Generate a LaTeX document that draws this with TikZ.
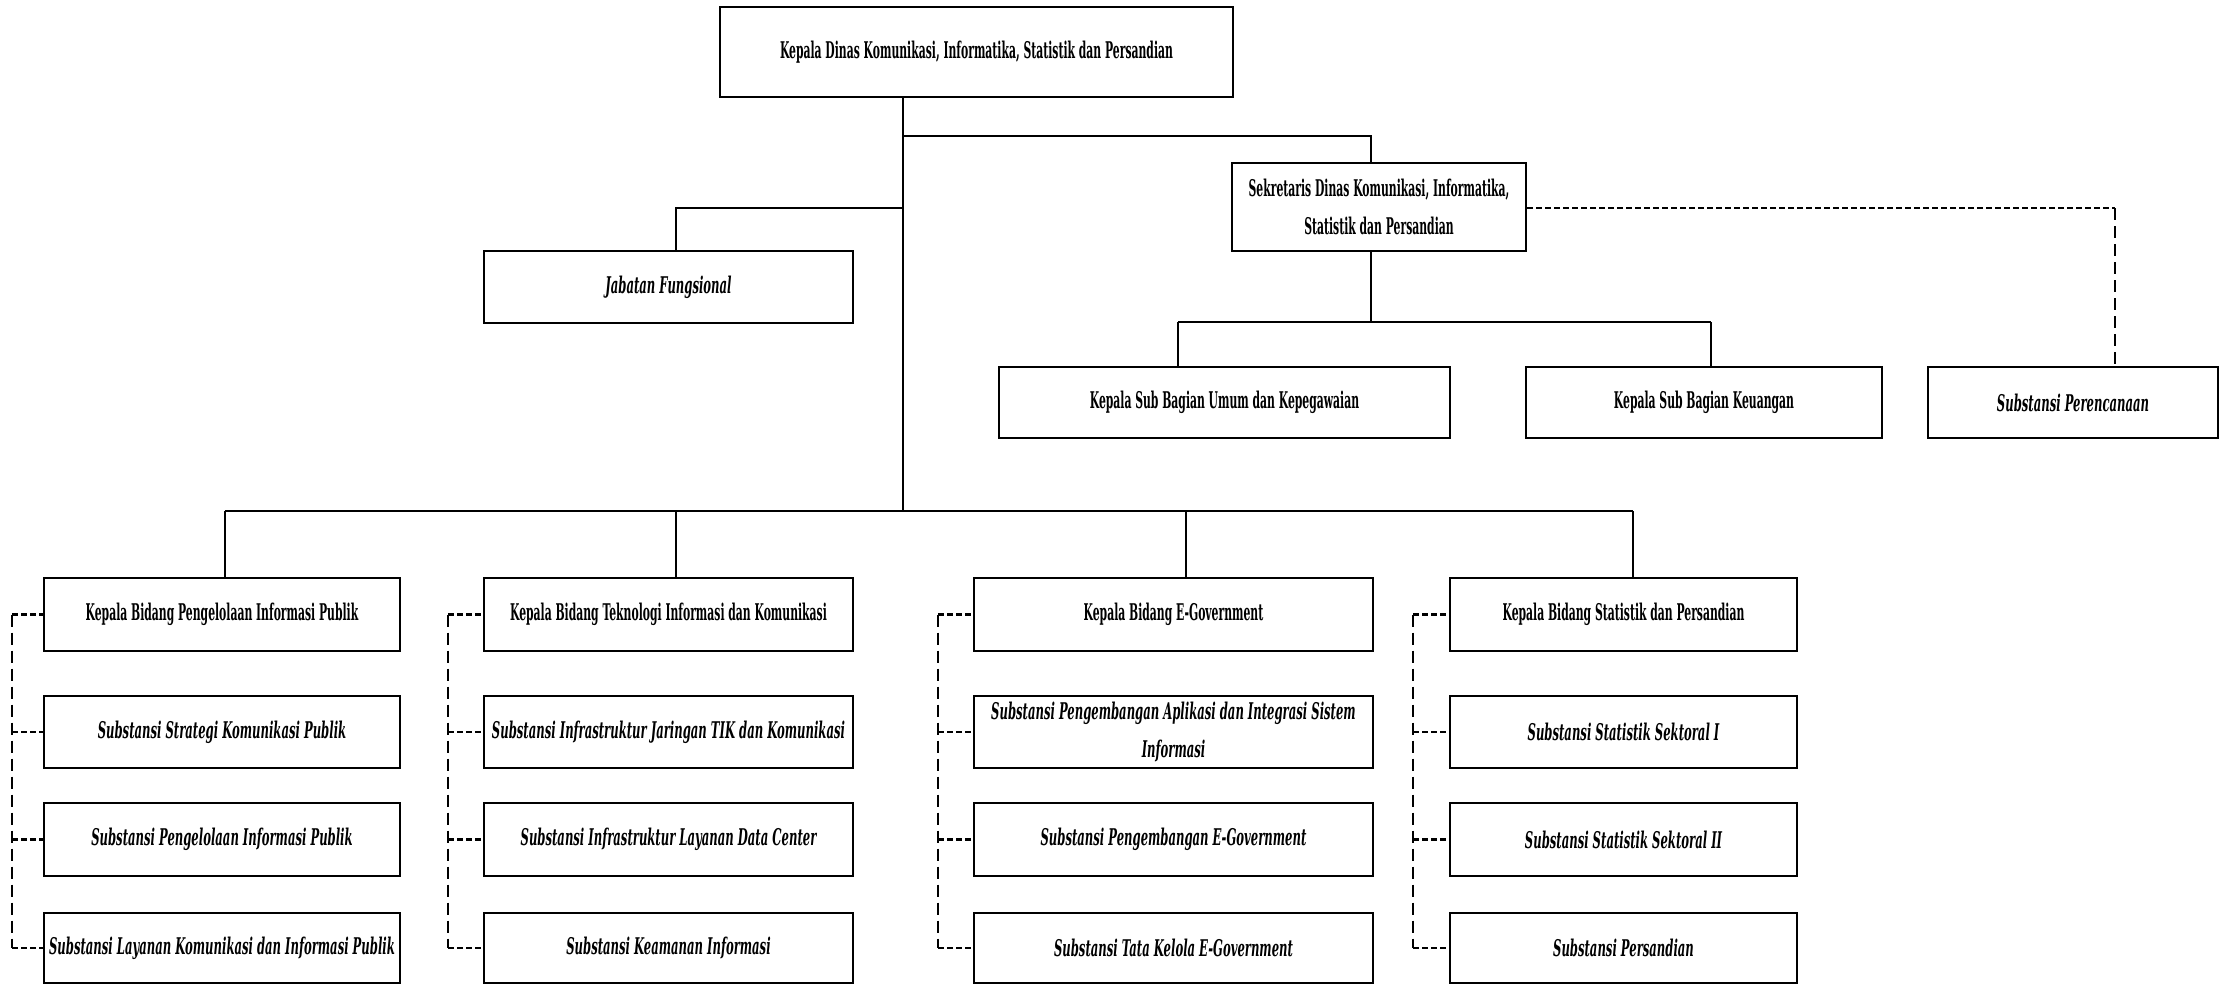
\documentclass[tikz,border=0pt]{standalone}
\usepackage{fontspec}
\setmainfont[FakeStretch=0.47]{DejaVu Serif}
\newfontfamily\itfam[FakeStretch=0.505]{DejaVu Serif}
\begin{document}
\begin{tikzpicture}[x=0.5pt,y=-0.5pt,
  box/.style={draw, line width=1.1pt, inner sep=0pt, align=center, fill=white},
  kb/.style={box, font=\fontsize{11.5pt}{19pt}\selectfont\bfseries},
  sb/.style={box, font=\itfam\fontsize{11.5pt}{19pt}\selectfont\bfseries\itshape},
  conn/.style={line width=0.9pt},
  dshort/.style={line width=1.1pt, dash pattern=on 3pt off 1.5pt},
  dlong/.style={line width=0.8pt, dash pattern=on 6pt off 3pt},
  r1/.style={minimum height=36.5pt},
  r2/.style={minimum height=36pt},
  r3/.style={minimum height=36.5pt},
  r4/.style={minimum height=35pt},
  w1/.style={minimum width=178pt},
  w2/.style={minimum width=184.5pt},
  w3/.style={minimum width=199.5pt},
  w4/.style={minimum width=173.5pt}]
\useasboundingbox (0,0) rectangle (2225,985);

% top section
\node[kb, minimum width=256.5pt, minimum height=45pt] (top) at (976.5,52) {Kepala Dinas Komunikasi, Informatika, Statistik dan Persandian};
\node[kb, minimum width=147pt, minimum height=44pt] (sek) at (1379,207) {Sekretaris Dinas Komunikasi, Informatika,\\Statistik dan Persandian};
\node[sb, minimum width=184.5pt, minimum height=36pt] (jab) at (668.5,287) {Jabatan Fungsional};
\node[kb, minimum width=225.5pt, minimum height=35.5pt] (umum) at (1224.5,402.5) {Kepala Sub Bagian Umum dan Kepegawaian};
\node[kb, minimum width=178pt, minimum height=35.5pt] (keu) at (1704,402.5) {Kepala Sub Bagian Keuangan};
\node[sb, minimum width=145pt, minimum height=35.5pt] (ren) at (2073,402.5) {Substansi Perencanaan};

% column 1
\node[kb, w1, r1] (a1) at (222,614.5) {Kepala Bidang Pengelolaan Informasi Publik};
\node[sb, w1, r2] (a2) at (222,732) {Substansi Strategi Komunikasi Publik};
\node[sb, w1, r3] (a3) at (222,839.5) {Substansi Pengelolaan Informasi Publik};
\node[sb, w1, r4] (a4) at (222,948) {Substansi Layanan Komunikasi dan Informasi Publik};
% column 2
\node[kb, w2, r1] (b1) at (668.5,614.5) {Kepala Bidang Teknologi Informasi dan Komunikasi};
\node[sb, w2, r2] (b2) at (668.5,732) {Substansi Infrastruktur Jaringan TIK dan Komunikasi};
\node[sb, w2, r3] (b3) at (668.5,839.5) {Substansi Infrastruktur Layanan Data Center};
\node[sb, w2, r4] (b4) at (668.5,948) {Substansi Keamanan Informasi};
% column 3
\node[kb, w3, r1] (c1) at (1173.5,614.5) {Kepala Bidang E-Government};
\node[sb, w3, r2] (c2) at (1173.5,732) {Substansi Pengembangan Aplikasi dan Integrasi Sistem\\Informasi};
\node[sb, w3, r3] (c3) at (1173.5,839.5) {Substansi Pengembangan E-Government};
\node[sb, w3, r4] (c4) at (1173.5,948) {Substansi Tata Kelola E-Government};
% column 4
\node[kb, w4, r1] (d1) at (1623.5,614.5) {Kepala Bidang Statistik dan Persandian};
\node[sb, w4, r2] (d2) at (1623.5,732) {Substansi Statistik Sektoral I};
\node[sb, w4, r3] (d3) at (1623.5,839.5) {Substansi Statistik Sektoral II};
\node[sb, w4, r4] (d4) at (1623.5,948) {Substansi Persandian};

% junction coordinates
\coordinate (trunk) at (903,511);
\coordinate (sekbar) at (903,136);
\coordinate (sekdrop) at (1371,136);
\coordinate (jabbar) at (903,208);
\coordinate (jabdrop) at (676,208);
\coordinate (subbar) at (1371,322);
\coordinate (umdrop) at (1178,322);
\coordinate (kedrop) at (1711,322);
\coordinate (rendrop) at (2115,208);
\coordinate (dA) at (225,511);
\coordinate (dB) at (676,511);
\coordinate (dC) at (1186,511);
\coordinate (dD) at (1633,511);
\coordinate (vA) at (12,0);
\coordinate (vB) at (448,0);
\coordinate (vC) at (938,0);
\coordinate (vD) at (1413,0);

% solid connectors
\draw[conn] (top.south -| trunk) -- (trunk);
\draw[conn] (sekbar) -- (sekdrop) -- (sek.north -| sekdrop);
\draw[conn] (jabbar) -- (jabdrop) -- (jab.north -| jabdrop);
\draw[conn] (sek.south -| subbar) -- (subbar);
\draw[conn] (umdrop) -- (kedrop);
\draw[conn] (umdrop) -- (umum.north -| umdrop);
\draw[conn] (kedrop) -- (keu.north -| kedrop);
\draw[conn] (dA) -- (dD);
\draw[conn] (dA) -- (a1.north -| dA);
\draw[conn] (dB) -- (b1.north -| dB);
\draw[conn] (dC) -- (c1.north -| dC);
\draw[conn] (dD) -- (d1.north -| dD);

% dashed to Perencanaan
\draw[dshort] (sek.east |- rendrop) -- (rendrop);
\draw[dlong] (rendrop) -- (ren.north -| rendrop);

% dashed brackets
\foreach \col/\v in {a/vA, b/vB, c/vC, d/vD}{
  \draw[dlong] (\col1.west -| \v) -- (\col4.west -| \v);
  \foreach \r in {1,2,3,4}{
    \draw[dshort] (\col\r.west -| \v) -- (\col\r.west);
  }
}
\end{tikzpicture}
\end{document}
